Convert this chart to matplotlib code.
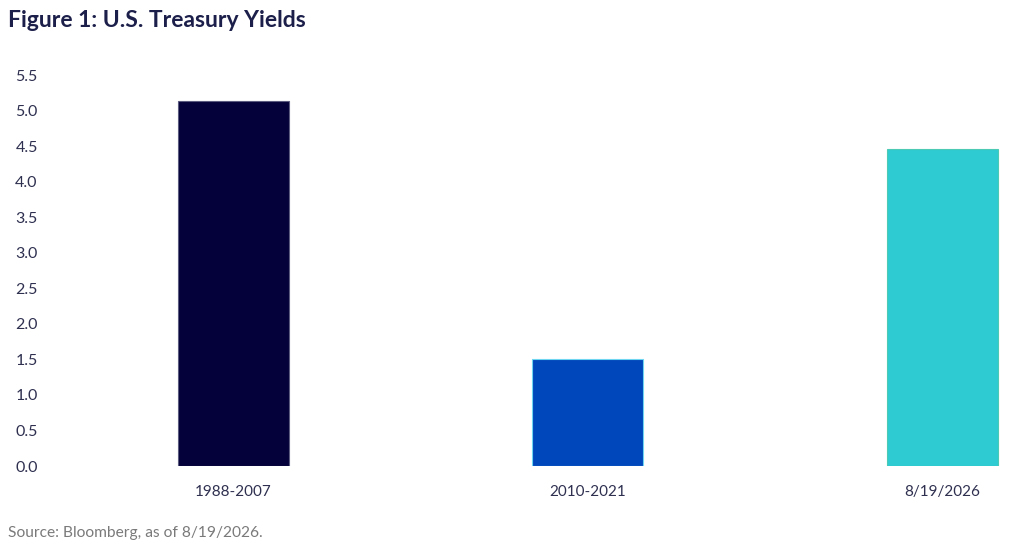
import matplotlib
matplotlib.use('Agg')
import matplotlib.pyplot as plt

# data
periods = ['1988-2007', '2010-2021', '8/19/2026']
yields = [5.13, 1.5, 4.46]
bar_colors = ['#04013a', '#0047bb', '#2ecbd2']
edge_colors = ['#5c5c80', '#6fd6f2', '#4ccab4']
y_ticks = [0.0, 0.5, 1.0, 1.5, 2.0, 2.5, 3.0, 3.5, 4.0, 4.5, 5.0, 5.5]

plt.rcParams['font.family'] = ['Lato', 'DejaVu Sans']

fig = plt.figure(figsize=(10.24, 5.5), dpi=100)
ax = fig.add_axes([0.049, 0.1527, 0.928, 0.7109])

x = range(len(periods))
ax.bar(x, yields, width=0.313, color=bar_colors, edgecolor=edge_colors, linewidth=0.8)

ax.set_ylim(0, 5.5)
ax.set_xlim(-0.516, 2.163)
ax.set_yticks(y_ticks)
ax.set_yticklabels([f'{v:.1f}' for v in y_ticks])
ax.set_xticks(list(x))
ax.set_xticklabels(periods)
ax.tick_params(axis='both', length=0, labelsize=11, colors='#2f3050')
ax.tick_params(axis='y', labelsize=11.5, pad=9)
ax.tick_params(axis='x', pad=14)
for s in ax.spines.values():
    s.set_visible(False)

fig.text(0.008, 0.962, 'Figure 1: U.S. Treasury Yields', fontsize=16.5, fontweight='bold',
         color='#1c1f4a', ha='left', va='center')
fig.text(0.008, 0.031, 'Source: Bloomberg, as of 8/19/2026.', fontsize=11.2,
         color='#7a7a7a', ha='left', va='center')

fig.savefig('out.png', dpi=100)
